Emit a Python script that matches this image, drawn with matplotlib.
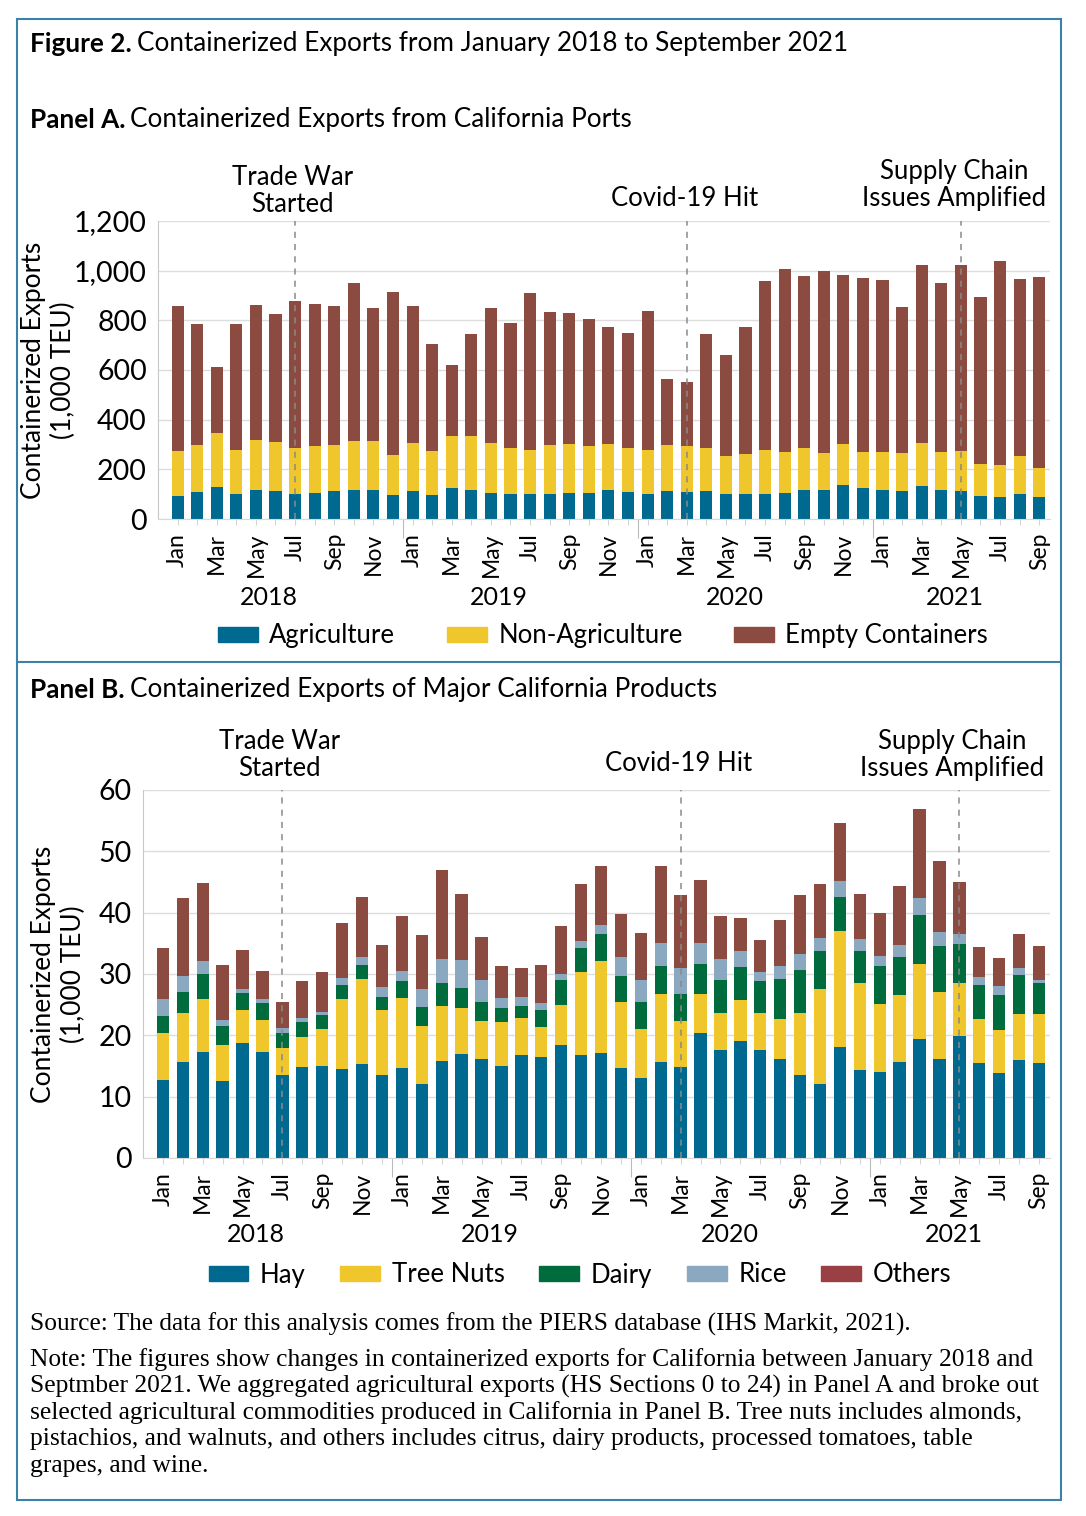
import numpy as np
import matplotlib
matplotlib.use("Agg")
import matplotlib.pyplot as plt
from matplotlib.patches import Rectangle, Patch
from matplotlib.lines import Line2D

plt.rcParams['font.family'] = ['Lato', 'DejaVu Sans']

# ~ mois Jan 2018 -> Sep 2021 (45 mois)
months = ['Jan', 'Feb', 'Mar', 'Apr', 'May', 'Jun', 'Jul', 'Aug', 'Sep', 'Oct', 'Nov', 'Dec'] * 3 + \
         ['Jan', 'Feb', 'Mar', 'Apr', 'May', 'Jun', 'Jul', 'Aug', 'Sep']
years = ['2018', '2019', '2020', '2021']
events = ['Trade War\nStarted', 'Covid-19 Hit', 'Supply Chain\nIssues Amplified']
event_month = [6, 26, 40]  # Jul 2018, Mar 2020, May 2021

# ~ Panel A (1,000 TEU)
agriculture = [93, 108, 127, 101, 116, 111, 101, 105, 111, 117, 116, 95,
               113, 96, 123, 116, 103, 99, 99, 99, 103, 105, 117, 109,
               101, 113, 109, 112, 99, 99, 101, 104, 117, 116, 136, 125,
               116, 111, 131, 115, 111, 92, 87, 99, 87]
non_agriculture = [180, 191, 220, 178, 203, 201, 183, 187, 188, 198, 199, 161,
                   192, 177, 213, 219, 202, 185, 177, 198, 198, 188, 184, 175,
                   175, 187, 186, 172, 154, 161, 175, 164, 168, 149, 165, 143,
                   152, 154, 176, 154, 164, 131, 129, 153, 118]
empty = [583, 485, 266, 505, 541, 512, 595, 575, 560, 634, 533, 660,
         551, 431, 283, 410, 544, 505, 636, 538, 527, 511, 471, 463,
         563, 265, 256, 461, 408, 513, 681, 739, 692, 735, 682, 701,
         693, 587, 717, 683, 746, 672, 824, 713, 768]

# ~ Panel B (1,000 TEU)
hay = [12.7, 15.65, 17.3, 12.6, 18.7, 17.3, 13.6, 14.9, 15.05, 14.5, 15.4, 13.6,
       14.7, 12.0, 15.8, 16.9, 16.2, 15.0, 16.8, 16.5, 18.5, 16.8, 17.05, 14.6,
       13.0, 15.6, 14.9, 20.4, 17.65, 19.05, 17.65, 16.2, 13.5, 12.0, 18.1, 14.4,
       14.1, 15.65, 19.4, 16.2, 19.9, 15.5, 13.8, 15.9, 15.5]
tree_nuts = [7.6, 8.05, 8.7, 5.75, 5.4, 5.2, 4.3, 4.9, 6.0, 11.4, 13.8, 10.5,
             11.4, 9.5, 9.0, 7.5, 6.1, 7.2, 6.0, 4.9, 6.5, 13.6, 15.15, 10.9,
             8.05, 11.2, 7.4, 6.4, 5.95, 6.65, 5.95, 6.5, 10.2, 15.6, 18.9, 14.2,
             11.0, 10.9, 12.2, 10.8, 8.7, 7.1, 7.0, 7.5, 8.0]
dairy = [2.9, 3.4, 4.0, 3.25, 2.8, 2.8, 2.4, 2.4, 2.25, 2.3, 2.2, 2.1,
         2.7, 3.1, 3.7, 3.3, 3.2, 2.3, 2.0, 2.7, 4.0, 3.8, 4.4, 4.1,
         4.45, 4.5, 4.5, 4.9, 5.5, 5.4, 5.2, 6.55, 6.95, 6.2, 5.6, 5.2,
         6.15, 6.15, 8.1, 7.5, 6.3, 5.6, 5.75, 6.4, 5.0]
rice = [2.65, 2.5, 2.1, 0.85, 0.7, 0.6, 0.85, 0.7, 0.55, 1.1, 1.4, 1.6,
        1.7, 2.9, 4.0, 4.6, 3.5, 1.6, 1.4, 1.2, 1.0, 1.2, 1.4, 3.1,
        3.5, 3.7, 4.1, 3.3, 3.3, 2.6, 1.5, 2.1, 2.65, 2.1, 2.6, 1.9,
        1.75, 2.05, 2.7, 2.4, 1.7, 1.3, 1.55, 1.1, 0.6]
others = [8.45, 12.8, 12.8, 8.95, 6.3, 4.6, 4.35, 6.0, 6.45, 9.0, 9.8, 6.9,
          9.0, 8.8, 14.45, 10.8, 7.0, 5.2, 4.8, 6.2, 7.8, 9.3, 9.6, 7.1,
          7.75, 12.6, 12.0, 10.4, 7.0, 5.4, 5.2, 7.4, 9.5, 8.7, 9.5, 7.3,
          7.0, 9.65, 14.5, 11.5, 8.4, 4.9, 4.55, 5.6, 5.5]

BLUE = '#00698f'
YELLOW = '#efc62b'
BROWN = '#8c4b40'
GREEN = '#006b3c'
GREYBLUE = '#8aa8bf'
BORDER = '#3c82a8'

W, H = 1086, 1516
fig = plt.figure(figsize=(W / 100, H / 100), dpi=100)


def fy(py):
    return 1 - py / H


def make_axes(left, right, top, bottom):
    return fig.add_axes([left / W, fy(bottom), (right - left) / W, (bottom - top) / H])


def style_axes(ax, ymax, ystep, fmt, year_y, ev_y, ylab_x):
    n = len(months)
    x = np.arange(n)
    ax.set_xlim(-1.0, n - 0.45)
    ax.set_ylim(0, ymax)
    ax.set_yticks(np.arange(0, ymax + 1, ystep))
    ax.set_yticklabels([fmt(v) for v in np.arange(0, ymax + 1, ystep)], fontsize=20.5)
    ax.tick_params(axis='y', length=0, pad=8)
    ax.grid(axis='y', color='#dddddd', lw=1)
    ax.set_axisbelow(True)
    for s in ['top', 'right']:
        ax.spines[s].set_visible(False)
    ax.spines['left'].set_color('#c8c8c8')
    ax.spines['bottom'].set_color('#d8d8d8')
    # ~ ticks : frontières d'années (majeurs) et mois (mineurs)
    ax.set_xticks([11.5, 23.5, 35.5])
    ax.set_xticklabels([])
    ax.tick_params(axis='x', which='major', length=14, color='#bbbbbb')
    ax.set_xticks(x, minor=True)
    ax.set_xticklabels([m if i % 2 == 0 else '' for i, m in enumerate(months)],
                       minor=True, rotation=90, fontsize=16.5)
    ax.tick_params(axis='x', which='minor', length=4, color='#cccccc', pad=6)
    tr = matplotlib.transforms.blended_transform_factory(ax.transData, ax.transAxes)
    for yr, xp in zip(years, [4.65, 16.4, 28.45, 39.7]):
        ax.text(xp, year_y, yr, transform=tr, ha='center', va='center', fontsize=18)
    for ev, m, ey, dx in zip(events, event_month, ev_y, [-0.15, -0.1, -0.35]):
        ax.axvline(m, color='#8a8a8a', lw=1.1, dashes=(4, 4), zorder=5)
        ax.text(m + dx, ey, ev, transform=tr, ha='center', va='center',
                fontsize=18.5, linespacing=1.1)
    ax.set_ylabel('Containerized Exports\n(1,000 TEU)', fontsize=19, linespacing=1.25)
    ax.yaxis.set_label_coords(ylab_x, 0.5)
    return x


# ~ Panel A
axA = make_axes(158, 1050, 221, 519)
x = style_axes(axA, 1200, 200, lambda v: f'{int(v):,}', -0.262, [1.10, 1.077, 1.12], -0.092)
bw = 0.62
axA.bar(x, agriculture, bw, color=BLUE, label='Agriculture')
axA.bar(x, non_agriculture, bw, bottom=agriculture, color=YELLOW, label='Non-Agriculture')
axA.bar(x, empty, bw, bottom=np.add(agriculture, non_agriculture), color=BROWN, label='Empty Containers')
fig.legend(handles=[Patch(color=BLUE), Patch(color=YELLOW), Patch(color=BROWN)],
           labels=['Agriculture', 'Non-Agriculture', 'Empty Containers'],
           loc='center', bbox_to_anchor=(603 / W, fy(636)), ncol=3, frameon=False,
           fontsize=18.5, handlelength=1.55, handleheight=0.55, handletextpad=0.45, columnspacing=2.0)

# ~ Panel B
axB = make_axes(143, 1050, 790, 1158)
x = style_axes(axB, 60, 10, lambda v: f'{int(v)}', -0.209, [1.094, 1.073, 1.094], -0.063)
bot = np.zeros(len(months))
for vals, col, lab in [(hay, BLUE, 'Hay'), (tree_nuts, YELLOW, 'Tree Nuts'), (dairy, GREEN, 'Dairy'),
                       (rice, GREYBLUE, 'Rice'), (others, BROWN, 'Others')]:
    axB.bar(x, vals, bw, bottom=bot, color=col, label=lab)
    bot = bot + np.array(vals)
fig.legend(handles=[Patch(color=c) for c in [BLUE, YELLOW, GREEN, GREYBLUE, '#9a4044']],
           labels=['Hay', 'Tree Nuts', 'Dairy', 'Rice', 'Others'],
           loc='center', bbox_to_anchor=(580 / W, fy(1275)), ncol=5, frameon=False,
           fontsize=18.5, handlelength=1.55, handleheight=0.55, handletextpad=0.45, columnspacing=1.35)

# ~ cadre
fig.add_artist(Rectangle((17 / W, fy(1500)), (1061 - 17) / W, (1500 - 19) / H,
                         transform=fig.transFigure, fill=False, ec=BORDER, lw=1.5))
fig.add_artist(Line2D([17 / W, 1061 / W], [fy(662), fy(662)], transform=fig.transFigure, color=BORDER, lw=1.5))

# ~ titres (partie grasse + partie normale)
renderer = fig.canvas.get_renderer()


def title(px, py, bold, rest, size):
    t = fig.text(px / W, fy(py), bold, fontsize=size, fontweight='bold', va='center')
    bb = t.get_window_extent(renderer)
    fig.text(bb.x1 / W + 5 / W, fy(py), rest, fontsize=size, va='center')


title(30, 44, 'Figure 2.', 'Containerized Exports from January 2018 to September 2021', 18.8)
title(30, 120, 'Panel A.', 'Containerized Exports from California Ports', 18.8)
title(30, 690, 'Panel B.', 'Containerized Exports of Major California Products', 18.8)

serif = ['Liberation Serif', 'DejaVu Serif']
fig.text(30 / W, fy(1324), 'Source: The data for this analysis comes from the PIERS database (IHS Markit, 2021).',
         fontsize=18.3, family=serif, va='center')
note = ['Note: The figures show changes in containerized exports for California between January 2018 and',
        'Septmber 2021. We aggregated agricultural exports (HS Sections 0 to 24) in Panel A and broke out',
        'selected agricultural commodities produced in California in Panel B. Tree nuts includes almonds,',
        'pistachios, and walnuts, and others includes citrus, dairy products, processed tomatoes, table',
        'grapes, and wine.']
for i, line in enumerate(note):
    fig.text(30 / W, fy(1360 + i * 26.5), line, fontsize=18.4, family=serif, va='center')

fig.savefig('out.png', dpi=100)
